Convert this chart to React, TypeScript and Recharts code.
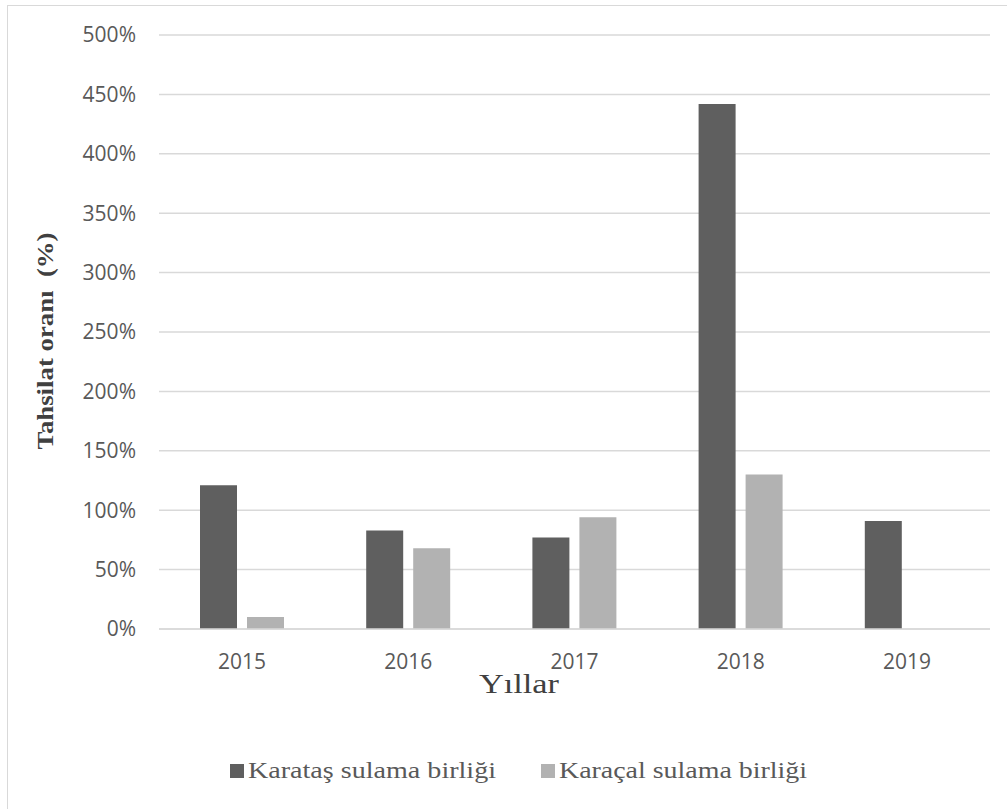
import React from "react";
import { BarChart, Bar, XAxis, YAxis, CartesianGrid, Legend, Label } from "recharts";

const years = ["2015", "2016", "2017", "2018", "2019"];
const karatas = [1.21, 0.83, 0.77, 4.42, 0.91];
const karacal = [0.1, 0.68, 0.94, 1.3, null];
const yTicks = [0, 0.5, 1, 1.5, 2, 2.5, 3, 3.5, 4, 4.5, 5];

const SERIES = [
  { key: "karatas", name: "Karataş sulama birliği", color: "#5f5f5f" },
  { key: "karacal", name: "Karaçal sulama birliği", color: "#b2b2b2" },
];

const data = years.map((year, i) => ({
  year,
  karatas: karatas[i],
  karacal: karacal[i],
}));

const tickStyle = { fontFamily: "'Open Sans', sans-serif", fontSize: 21, fill: "#595959" };
const serif = "'Liberation Serif', 'Times New Roman', serif";

// legend row laid out by hand: square, 4px gap, label, 45px between items
const LEGEND_W = 1037;
const ICON = 14;
const LABEL_W = 248;
const ITEM_GAP = 45;

function LegendRow() {
  const itemW = ICON + 4 + LABEL_W;
  const start = (LEGEND_W - (itemW * SERIES.length + ITEM_GAP * (SERIES.length - 1))) / 2;
  return (
    <svg width={LEGEND_W} height={30} style={{ display: "block" }}>
      {SERIES.map((s, i) => {
        const x = start + i * (itemW + ITEM_GAP);
        return (
          <g key={s.key}>
            <rect x={x} y={7} width={ICON} height={ICON} fill={s.color} />
            <text
              x={x + ICON + 4}
              y={21}
              fontFamily={serif}
              fontSize={24}
              fill="#595959"
              textLength={LABEL_W}
              lengthAdjust="spacingAndGlyphs"
            >
              {s.name}
            </text>
          </g>
        );
      })}
    </svg>
  );
}

export default function App() {
  return (
    <div style={{ position: "fixed", left: 0, top: 0, width: 1007, height: 809, overflow: "hidden", background: "#fff" }}>
      <div
        style={{
          position: "absolute",
          left: 7,
          top: 5,
          width: 1022,
          height: 900,
          border: "1px solid #d9d9d9",
        }}
      />
      <div style={{ position: "absolute", left: 0, top: 0 }}>
        <BarChart
          width={1037}
          height={809}
          data={data}
          margin={{ top: 35, right: 47, left: 0, bottom: 120 }}
          barGap={10}
          barSize={37}
        >
          <CartesianGrid vertical={false} stroke="#d9d9d9" strokeWidth={1.5} />
          <XAxis
            dataKey="year"
            height={30}
            tickLine={false}
            tickSize={0}
            tickMargin={25}
            axisLine={{ stroke: "#d9d9d9", strokeWidth: 1.5 }}
            tick={tickStyle}
          >
            <Label
              content={() => (
                <text
                  x={519}
                  y={693}
                  textAnchor="middle"
                  fontFamily={serif}
                  fontSize={27}
                  fill="#404040"
                  textLength={80}
                  lengthAdjust="spacingAndGlyphs"
                >
                  Yıllar
                </text>
              )}
            />
          </XAxis>
          <YAxis
            width={159}
            domain={[0, 5]}
            ticks={yTicks}
            interval={0}
            tickLine={false}
            tickSize={0}
            tickMargin={23}
            axisLine={false}
            tick={tickStyle}
            tickFormatter={(v: number) => `${Math.round(v * 100)}%`}
          >
            <Label
              content={() => (
                <text
                  transform="translate(45 341) rotate(-90)"
                  x={0}
                  y={0}
                  textAnchor="middle"
                  dominantBaseline="central"
                  fontFamily={serif}
                  fontWeight="bold"
                  fontSize={23}
                  fill="#404040"
                  textLength={217}
                  lengthAdjust="spacingAndGlyphs"
                  style={{ whiteSpace: "pre" }}
                >
                  {"Tahsilat oranı  (%)"}
                </text>
              )}
            />
          </YAxis>
          <Legend
            verticalAlign="bottom"
            wrapperStyle={{ left: 0, top: 757, width: LEGEND_W }}
            content={() => <LegendRow />}
          />
          {SERIES.map((s) => (
            <Bar key={s.key} dataKey={s.key} name={s.name} fill={s.color} isAnimationActive={false} />
          ))}
        </BarChart>
      </div>
    </div>
  );
}
